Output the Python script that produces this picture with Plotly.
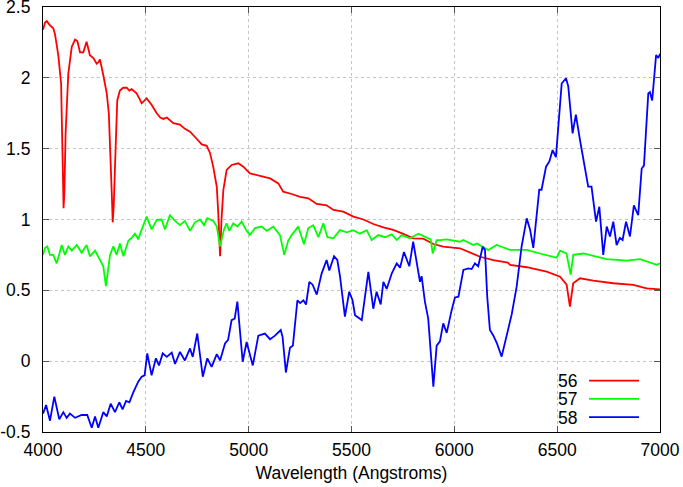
import plotly.graph_objects as go

# ---- data ----
series_names = ["56", "57", "58"]
series_colors = ["#ff0000", "#00ff00", "#0000ff"]

red_x = [4000, 4010, 4018, 4034, 4050, 4058, 4068, 4075, 4088, 4095, 4100, 4104, 4110, 4123, 4140,
         4156, 4167, 4180, 4196, 4212, 4228, 4245, 4261, 4270, 4277, 4293, 4310, 4320, 4326, 4334,
         4339, 4344, 4350, 4361, 4374, 4390, 4407, 4420, 4431, 4455, 4470, 4480, 4504, 4528, 4553,
         4570, 4585, 4602, 4634, 4666, 4690, 4715, 4747, 4772, 4796, 4812, 4828, 4845, 4852, 4861,
         4868, 4877, 4893, 4917, 4950, 4974, 5006, 5055, 5104, 5144, 5168, 5209, 5250, 5290, 5331,
         5379, 5412, 5460, 5509, 5558, 5606, 5655, 5703, 5752, 5800, 5849, 5898, 5946, 6027, 6092,
         6125, 6190, 6260, 6271, 6352, 6449, 6514, 6546, 6562, 6578, 6611, 6676, 6773, 6870, 6935,
         7000]
red_y = [2.34, 2.39, 2.40, 2.37, 2.35, 2.31, 2.22, 2.15, 1.96, 1.50, 1.08, 1.20, 1.61, 2.03, 2.22,
         2.27, 2.26, 2.18, 2.18, 2.255, 2.16, 2.14, 2.10, 2.11, 2.13, 2.02, 1.89, 1.75, 1.56, 1.20,
         0.98, 1.10, 1.37, 1.84, 1.91, 1.93, 1.93, 1.91, 1.92, 1.89, 1.85, 1.82, 1.855, 1.81, 1.75,
         1.72, 1.71, 1.72, 1.68, 1.67, 1.64, 1.62, 1.57, 1.53, 1.52, 1.47, 1.37, 1.23, 1.05, 0.74,
         1.00, 1.21, 1.35, 1.385, 1.397, 1.373, 1.326, 1.307, 1.29, 1.255, 1.196, 1.18, 1.16, 1.15, 1.11,
         1.10, 1.067, 1.055, 1.02, 1.00, 0.968, 0.945, 0.926, 0.898, 0.867, 0.865, 0.827, 0.808, 0.797, 0.757,
         0.737, 0.714, 0.695, 0.68, 0.663, 0.632, 0.596, 0.54, 0.385, 0.55, 0.585, 0.568, 0.55, 0.538, 0.514,
         0.507]

green_x = [4000, 4010, 4021, 4034, 4050, 4066, 4080, 4091, 4107, 4123, 4140, 4164, 4188, 4212, 4228,
           4253, 4277, 4293, 4306, 4318, 4326, 4342, 4358, 4374, 4391, 4415, 4431, 4447, 4463, 4480,
           4504, 4528, 4553, 4577, 4593, 4617, 4642, 4666, 4690, 4715, 4739, 4763, 4783, 4799, 4828,
           4845, 4861, 4880, 4893, 4905, 4925, 4945, 4966, 4990, 5006, 5031, 5063, 5088, 5120, 5152,
           5173, 5192, 5209, 5241, 5269, 5290, 5314, 5339, 5363, 5383, 5412, 5444, 5477, 5509, 5541,
           5574, 5598, 5630, 5663, 5696, 5720, 5744, 5784, 5825, 5865, 5885, 5895, 5914, 5930, 5963,
           6027, 6044, 6092, 6110, 6165, 6206, 6271, 6352, 6416, 6498, 6514, 6545, 6566, 6578, 6627,
           6692, 6741, 6838, 6903, 6984, 7000]
green_y = [0.75, 0.80, 0.81, 0.75, 0.75, 0.69, 0.76, 0.82, 0.75, 0.81, 0.78, 0.82, 0.765, 0.82, 0.74,
           0.78, 0.715, 0.67, 0.53, 0.69, 0.75, 0.81, 0.75, 0.83, 0.74, 0.85, 0.87, 0.90, 0.86, 0.93,
           1.02, 0.93, 0.997, 1.00, 0.93, 1.03, 0.99, 0.96, 0.99, 0.92, 0.98, 1.00, 0.96, 1.01, 0.99,
           0.95, 0.81, 0.93, 0.973, 0.92, 0.973, 0.95, 0.985, 0.92, 0.89, 0.94, 0.95, 0.92, 0.95, 0.89,
           0.75, 0.85, 0.89, 0.95, 0.825, 0.94, 0.96, 0.875, 0.973, 0.875, 0.867, 0.925, 0.91, 0.925, 0.90,
           0.925, 0.855, 0.89, 0.875, 0.895, 0.855, 0.89, 0.867, 0.90, 0.872, 0.86, 0.76, 0.855, 0.855, 0.86,
           0.843, 0.855, 0.82, 0.83, 0.785, 0.82, 0.785, 0.785, 0.76, 0.73, 0.78, 0.76, 0.61, 0.75, 0.76,
           0.735, 0.72, 0.71, 0.72, 0.68, 0.69]

blue_x = [4000, 4015, 4034, 4055, 4079, 4099, 4115, 4131, 4156, 4188, 4215, 4237, 4253, 4269, 4293,
          4310, 4329, 4350, 4371, 4387, 4404, 4420, 4439, 4463, 4480, 4494, 4507, 4528, 4549, 4564,
          4582, 4602, 4626, 4642, 4666, 4690, 4715, 4728, 4750, 4777, 4799, 4820, 4845, 4861, 4885,
          4900, 4917, 4932, 4945, 4958, 4971, 4990, 5020, 5047, 5079, 5104, 5128, 5156, 5165, 5181,
          5201, 5215, 5237, 5250, 5266, 5279, 5295, 5311, 5331, 5355, 5379, 5392, 5415, 5431, 5444,
          5468, 5489, 5505, 5517, 5550, 5566, 5582, 5606, 5622, 5642, 5655, 5671, 5696, 5720, 5736,
          5755, 5781, 5800, 5816, 5833, 5841, 5857, 5873, 5898, 5914, 5930, 5946, 5963, 5987, 6003,
          6020, 6044, 6068, 6084, 6100, 6116, 6138, 6149, 6160, 6173, 6190, 6206, 6230, 6254, 6279,
          6303, 6327, 6352, 6368, 6384, 6400, 6413, 6424, 6446, 6462, 6478, 6494, 6505, 6522, 6543,
          6554, 6575, 6591, 6611, 6630, 6651, 6667, 6689, 6705, 6724, 6741, 6757, 6773, 6789, 6805,
          6818, 6835, 6854, 6873, 6894, 6911, 6922, 6943, 6951, 6962, 6981, 6992, 7000]
blue_y = [-0.37, -0.31, -0.42, -0.25, -0.41, -0.36, -0.40, -0.37, -0.40, -0.38, -0.38, -0.47, -0.39, -0.47, -0.36,
          -0.39, -0.30, -0.36, -0.29, -0.34, -0.28, -0.29, -0.22, -0.145, -0.11, -0.10, 0.055, -0.10, 0.02, -0.03,
          0.055, 0.03, 0.06, -0.02, 0.065, 0.005, 0.09, 0.03, 0.195, -0.11, 0.02, -0.04, 0.05, 0.005, 0.125,
          0.15, 0.29, 0.30, 0.42, 0.19, -0.004, 0.135, -0.03, 0.18, 0.195, 0.155, 0.18, 0.22, 0.17, -0.08,
          0.095, 0.11, 0.43, 0.41, 0.43, 0.40, 0.56, 0.54, 0.47, 0.62, 0.714, 0.64, 0.74, 0.714, 0.60,
          0.315, 0.49, 0.43, 0.325, 0.29, 0.455, 0.63, 0.37, 0.49, 0.40, 0.56, 0.51, 0.62, 0.69, 0.66,
          0.77, 0.67, 0.843, 0.71, 0.56, 0.60, 0.42, 0.30, -0.18, 0.11, 0.14, 0.267, 0.20, 0.36, 0.45,
          0.455, 0.644, 0.655, 0.65, 0.69, 0.67, 0.808, 0.785, 0.455, 0.22, 0.18, 0.13, 0.032, 0.18, 0.33,
          0.526, 0.808, 1.008, 0.93, 0.80, 1.02, 1.21, 1.21, 1.373, 1.41, 1.49, 1.44, 1.632, 1.96, 1.997,
          1.94, 1.608, 1.74, 1.56, 1.41, 1.232, 1.232, 0.985, 1.09, 0.75, 0.95, 0.88, 0.985, 0.82, 0.87,
          0.855, 0.985, 0.88, 1.10, 1.03, 1.36, 1.38, 1.89, 1.90, 1.84, 2.16, 2.14, 2.17]

x_ticks = [4000, 4500, 5000, 5500, 6000, 6500, 7000]
x_tick_text = ["4000", "4500", "5000", "5500", "6000", "6500", "7000"]
y_ticks = [-0.5, 0, 0.5, 1, 1.5, 2, 2.5]
y_tick_text = ["-0.5", "0", "0.5", "1", "1.5", "2", "2.5"]
x_title = "Wavelength (Angstroms)"

FONT = "Liberation Sans, Arial, Helvetica, sans-serif"
FS = 17.5

fig = go.Figure()
for name, color, xs, ys in zip(series_names, series_colors,
                               [red_x, green_x, blue_x], [red_y, green_y, blue_y]):
    fig.add_trace(go.Scatter(x=xs, y=ys, mode="lines", name=name,
                             line=dict(color=color, width=1.8), showlegend=False))

axis_common = dict(
    showline=True, linecolor="black", linewidth=1.2, mirror="ticks",
    ticks="inside", ticklen=6, tickcolor="#555555", tickwidth=1,
    showgrid=True, gridcolor="#c4c4c4", griddash="dot", gridwidth=1,
    zeroline=False, tickfont=dict(family=FONT, size=FS, color="black"),
    automargin=False, ticklabeloverflow="allow",
)

fig.update_xaxes(range=[4000, 7000], tickvals=x_ticks, ticktext=x_tick_text,
                 ticklabelstandoff=2,
                 title=dict(text=x_title, font=dict(family=FONT, size=FS, color="black"), standoff=7),
                 **axis_common)
fig.update_yaxes(range=[-0.5, 2.5], tickvals=y_ticks, ticktext=y_tick_text,
                 ticklabelstandoff=8, **axis_common)

# custom key: label to the left of the line sample (gnuplot style)
key_y = [0.121, 0.078, 0.035]
for name, color, ky in zip(series_names, series_colors, key_y):
    fig.add_annotation(xref="paper", yref="paper", x=0.867, y=ky, text=name,
                       showarrow=False, xanchor="right", yanchor="middle",
                       height=17, borderpad=0,
                       font=dict(family=FONT, size=FS, color="black"))
    fig.add_shape(type="line", xref="paper", yref="paper", x0=0.885, x1=0.966,
                  y0=ky, y1=ky, line=dict(color=color, width=1.8))

fig.update_layout(
    width=683, height=487,
    margin=dict(l=43, r=23, t=7, b=55),
    plot_bgcolor="white", paper_bgcolor="white",
    font=dict(family=FONT, size=FS, color="black"),
    showlegend=False,
)

fig.write_html("out.html", config={"displayModeBar": False},
               post_script="document.body.style.margin='0';document.body.style.overflow='hidden';")
